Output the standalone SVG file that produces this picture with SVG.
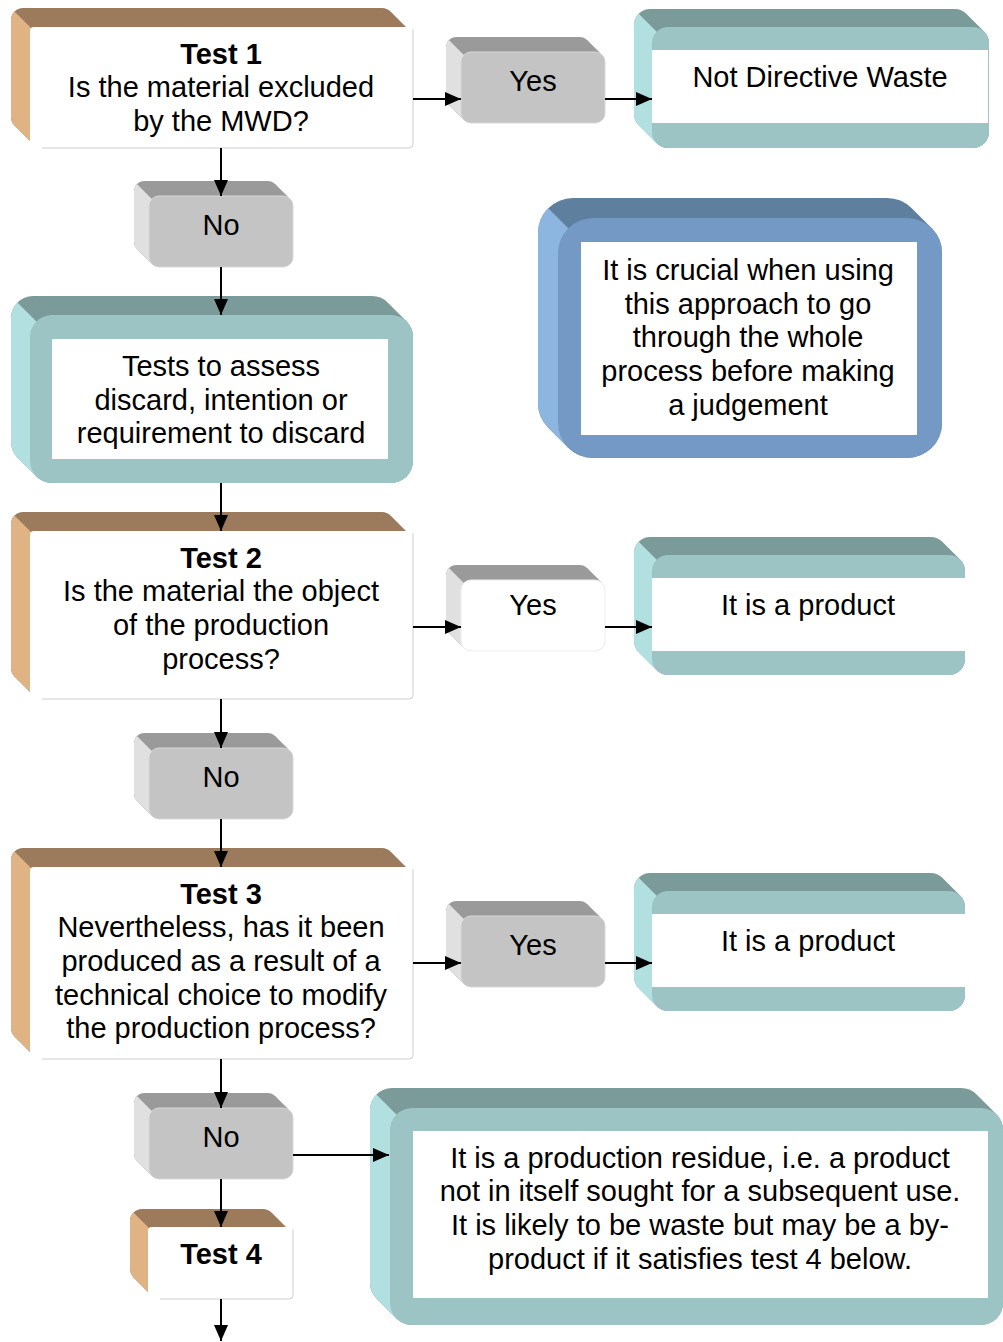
<svg xmlns="http://www.w3.org/2000/svg" width="1003" height="1342" viewBox="0 0 1003 1342">
<style>
text{font-family:"Liberation Sans",Arial,sans-serif;font-size:29px;fill:#000;text-anchor:middle}
.b{font-weight:bold}
.tt{fill:#9c7b5c}.tl{fill:#e0b384}.tf{fill:#fff}
.edge{stroke:#cfcfcf;stroke-width:1;fill:none}
.gt{fill:#9a9a9a}.gl{fill:#e0e0e0}.gf{fill:#c4c4c4;stroke:#d8d8d8;stroke-width:1}
.ct{fill:#7a9b99}.cl{fill:#b2e0e0}.cf{fill:#9dc4c4}
.bt{fill:#5e7f9e}.bl{fill:#8cb5e0}.bf{fill:#7399c4}
.w{fill:#fff}
.con line{stroke:#000;stroke-width:2;fill:none;marker-end:url(#ah)}
</style>
<defs>
<marker id="ah" markerUnits="userSpaceOnUse" markerWidth="16" markerHeight="14" viewBox="0 0 16 14" refX="16" refY="7" orient="auto"><path d="M0,0 L16,7 L0,14 z" fill="#000"/></marker>
<path id="gsil" d="M-15,-5 A10 10 0 0 1 -5,-15 L119,-15 A10 10 0 0 1 126.1,-12.1 L141.1,2.9 A10 10 0 0 1 144,10 L144,61 A10 10 0 0 1 134,71 L10,71 A10 10 0 0 1 2.9,68.1 L-12.1,53.1 A10 10 0 0 1 -15,46 Z"/>
<path id="gleft" d="M-12.1,-12.1 A10 10 0 0 0 -15,-5 L-15,46 A10 10 0 0 0 -12.1,53.1 L2.9,68.1 L2.9,2.9 Z"/>
<path id="psil" d="M-18,-2 A16 16 0 0 1 -2,-18 L279,-18 A16 16 0 0 1 290.3,-13.3 L308.3,4.7 A16 16 0 0 1 313,16 L313,104 A16 16 0 0 1 297,120 L16,120 A16 16 0 0 1 4.7,115.3 L-13.3,97.3 A16 16 0 0 1 -18,86 Z"/>
<path id="pleft" d="M-13.3,-13.3 A16 16 0 0 0 -18,-2 L-18,86 A16 16 0 0 0 -13.3,97.3 L4.7,115.3 L4.7,4.7 Z"/>
</defs>

<g id="test1" transform="translate(30,27)">
<path class="tt" d="M-19,-7 A12 12 0 0 1 -7,-19 L352,-19 A12 12 0 0 1 360.5,-15.5 L379.5,3.5 A12 12 0 0 1 383,12 L383,109 A12 12 0 0 1 371,121 L12,121 A12 12 0 0 1 3.5,117.5 L-15.5,98.5 A12 12 0 0 1 -19,90 Z"/>
<path class="tl" d="M-15.5,-15.5 A12 12 0 0 0 -19,-7 L-19,90 A12 12 0 0 0 -15.5,98.5 L3.5,117.5 L3.5,3.5 Z"/>
<rect class="tf" x="0" y="0" width="383" height="121" rx="4"/>
<path class="edge" d="M383,2 L383,117 Q383,121 379,121 L12,121"/>
<text class="b" x="191" y="37">Test 1</text>
<text x="191" y="70">Is the material excluded</text>
<text x="191" y="104">by the MWD?</text>
</g>

<g id="yes1" transform="translate(461,52)">
<use href="#gsil" class="gt"/><use href="#gleft" class="gl"/>
<rect class="gf" x="0" y="0" width="144" height="71" rx="10"/>
<text x="72" y="39">Yes</text>
</g>

<g id="notdirective" transform="translate(652,27)">
<path class="ct" d="M-18,-2 A16 16 0 0 1 -2,-18 L303,-18 A16 16 0 0 1 314.3,-13.3 L332.3,4.7 A16 16 0 0 1 337,16 L337,105 A16 16 0 0 1 321,121 L16,121 A16 16 0 0 1 4.7,116.3 L-13.3,98.3 A16 16 0 0 1 -18,87 Z"/>
<path class="cl" d="M-13.3,-13.3 A16 16 0 0 0 -18,-2 L-18,87 A16 16 0 0 0 -13.3,98.3 L4.7,116.3 L4.7,4.7 Z"/>
<rect class="cf" x="0" y="0" width="337" height="121" rx="16"/>
<rect class="w" x="0" y="23" width="336" height="73"/>
<text x="168" y="60">Not Directive Waste</text>
</g>

<g id="no1" transform="translate(149,196)">
<use href="#gsil" class="gt"/><use href="#gleft" class="gl"/>
<rect class="gf" x="0" y="0" width="144" height="71" rx="10"/>
<text x="72" y="39">No</text>
</g>

<g id="tests" transform="translate(30,315)">
<path class="ct" d="M-19,3 A22 22 0 0 1 3,-19 L342,-19 A22 22 0 0 1 357.6,-12.6 L376.6,6.4 A22 22 0 0 1 383,22 L383,146 A22 22 0 0 1 361,168 L22,168 A22 22 0 0 1 6.4,161.6 L-12.6,142.6 A22 22 0 0 1 -19,127 Z"/>
<path class="cl" d="M-12.6,-12.6 A22 22 0 0 0 -19,3 L-19,127 A22 22 0 0 0 -12.6,142.6 L6.4,161.6 L6.4,6.4 Z"/>
<rect class="cf" x="0" y="0" width="383" height="168" rx="22"/>
<rect class="w" x="22" y="24" width="336" height="120"/>
<text x="191" y="61">Tests to assess</text>
<text x="191" y="94.5">discard, intention or</text>
<text x="191" y="128">requirement to discard</text>
</g>

<g id="note" transform="translate(558,218)">
<path class="bt" d="M-20,15 A35 35 0 0 1 15,-20 L329,-20 A35 35 0 0 1 353.75,-9.75 L373.75,10.25 A35 35 0 0 1 384,35 L384,205 A35 35 0 0 1 349,240 L35,240 A35 35 0 0 1 10.25,229.75 L-9.75,209.75 A35 35 0 0 1 -20,185 Z"/>
<path class="bl" d="M-9.75,-9.75 A35 35 0 0 0 -20,15 L-20,185 A35 35 0 0 0 -9.75,209.75 L10.25,229.75 L10.25,10.25 Z"/>
<rect class="bf" x="0" y="0" width="384" height="240" rx="35"/>
<rect class="w" x="23" y="24" width="336" height="193"/>
<text x="190" y="62">It is crucial when using</text>
<text x="190" y="95.5">this approach to go</text>
<text x="190" y="129">through the whole</text>
<text x="190" y="163">process before making</text>
<text x="190" y="196.5">a judgement</text>
</g>

<g id="test2" transform="translate(30,531)">
<path class="tt" d="M-19,-7 A12 12 0 0 1 -7,-19 L352,-19 A12 12 0 0 1 360.5,-15.5 L379.5,3.5 A12 12 0 0 1 383,12 L383,156 A12 12 0 0 1 371,168 L12,168 A12 12 0 0 1 3.5,164.5 L-15.5,145.5 A12 12 0 0 1 -19,137 Z"/>
<path class="tl" d="M-15.5,-15.5 A12 12 0 0 0 -19,-7 L-19,137 A12 12 0 0 0 -15.5,145.5 L3.5,164.5 L3.5,3.5 Z"/>
<rect class="tf" x="0" y="0" width="383" height="168" rx="4"/>
<path class="edge" d="M383,2 L383,164 Q383,168 379,168 L12,168"/>
<text class="b" x="191" y="37">Test 2</text>
<text x="191" y="70">Is the material the object</text>
<text x="191" y="104">of the production</text>
<text x="191" y="138">process?</text>
</g>

<g id="yes2" transform="translate(461,580)">
<use href="#gsil" class="gt"/><use href="#gleft" class="gl"/>
<rect x="0" y="0" width="144" height="71" rx="10" fill="#fff" stroke="#eeeeee"/>
<text x="72" y="35">Yes</text>
</g>

<g id="product1" transform="translate(652,555)">
<use href="#psil" class="ct"/><use href="#pleft" class="cl"/>
<rect class="cf" x="0" y="0" width="313" height="120" rx="16"/>
<rect class="w" x="0" y="23" width="313" height="73"/>
<text x="156" y="60">It is a product</text>
</g>

<g id="no2" transform="translate(149,748)">
<use href="#gsil" class="gt"/><use href="#gleft" class="gl"/>
<rect class="gf" x="0" y="0" width="144" height="71" rx="10"/>
<text x="72" y="39">No</text>
</g>

<g id="test3" transform="translate(30,867)">
<path class="tt" d="M-19,-7 A12 12 0 0 1 -7,-19 L352,-19 A12 12 0 0 1 360.5,-15.5 L379.5,3.5 A12 12 0 0 1 383,12 L383,180 A12 12 0 0 1 371,192 L12,192 A12 12 0 0 1 3.5,188.5 L-15.5,169.5 A12 12 0 0 1 -19,161 Z"/>
<path class="tl" d="M-15.5,-15.5 A12 12 0 0 0 -19,-7 L-19,161 A12 12 0 0 0 -15.5,169.5 L3.5,188.5 L3.5,3.5 Z"/>
<rect class="tf" x="0" y="0" width="383" height="192" rx="4"/>
<path class="edge" d="M383,2 L383,188 Q383,192 379,192 L12,192"/>
<text class="b" x="191" y="37">Test 3</text>
<text x="191" y="70">Nevertheless, has it been</text>
<text x="191" y="104">produced as a result of a</text>
<text x="191" y="138">technical choice to modify</text>
<text x="191" y="171">the production process?</text>
</g>

<g id="yes3" transform="translate(461,916)">
<use href="#gsil" class="gt"/><use href="#gleft" class="gl"/>
<rect class="gf" x="0" y="0" width="144" height="71" rx="10"/>
<text x="72" y="39">Yes</text>
</g>

<g id="product2" transform="translate(652,891)">
<use href="#psil" class="ct"/><use href="#pleft" class="cl"/>
<rect class="cf" x="0" y="0" width="313" height="120" rx="16"/>
<rect class="w" x="0" y="23" width="313" height="73"/>
<text x="156" y="60">It is a product</text>
</g>

<g id="no3" transform="translate(149,1108)">
<use href="#gsil" class="gt"/><use href="#gleft" class="gl"/>
<rect class="gf" x="0" y="0" width="144" height="71" rx="10"/>
<text x="72" y="39">No</text>
</g>

<g id="test4" transform="translate(148,1227)">
<path class="tt" d="M-18,-6 A12 12 0 0 1 -6,-18 L115,-18 A12 12 0 0 1 123.5,-14.5 L141.5,3.5 A12 12 0 0 1 145,12 L145,60 A12 12 0 0 1 133,72 L12,72 A12 12 0 0 1 3.5,68.5 L-14.5,50.5 A12 12 0 0 1 -18,42 Z"/>
<path class="tl" d="M-14.5,-14.5 A12 12 0 0 0 -18,-6 L-18,42 A12 12 0 0 0 -14.5,50.5 L3.5,68.5 L3.5,3.5 Z"/>
<rect class="tf" x="0" y="0" width="145" height="72" rx="4"/>
<path class="edge" d="M145,2 L145,68 Q145,72 141,72 L12,72"/>
<text class="b" x="73" y="37">Test 4</text>
</g>

<g id="residue" transform="translate(390,1108)">
<path class="ct" d="M-20,2 A22 22 0 0 1 2,-20 L571,-20 A22 22 0 0 1 586.6,-13.6 L606.6,6.4 A22 22 0 0 1 613,22 L613,195 A22 22 0 0 1 591,217 L22,217 A22 22 0 0 1 6.4,210.6 L-13.6,190.6 A22 22 0 0 1 -20,175 Z"/>
<path class="cl" d="M-13.6,-13.6 A22 22 0 0 0 -20,2 L-20,175 A22 22 0 0 0 -13.6,190.6 L6.4,210.6 L6.4,6.4 Z"/>
<rect class="cf" x="0" y="0" width="613" height="217" rx="22"/>
<rect class="w" x="23" y="23" width="575" height="167"/>
<text x="310" y="60">It is a production residue, i.e. a product</text>
<text x="310" y="93">not in itself sought for a subsequent use.</text>
<text x="310" y="127">It is likely to be waste but may be a by-</text>
<text x="310" y="161">product if it satisfies test 4 below.</text>
</g>

<g id="connectors" class="con">
<line x1="221" y1="148" x2="221" y2="196"/>
<line x1="221" y1="267" x2="221" y2="315"/>
<line x1="221" y1="483" x2="221" y2="531"/>
<line x1="221" y1="699" x2="221" y2="748"/>
<line x1="221" y1="819" x2="221" y2="867"/>
<line x1="221" y1="1059" x2="221" y2="1108"/>
<line x1="221" y1="1179" x2="221" y2="1227"/>
<line x1="221" y1="1299" x2="221" y2="1341"/>
<line x1="413" y1="99" x2="461" y2="99"/>
<line x1="605" y1="99" x2="652" y2="99"/>
<line x1="413" y1="627" x2="461" y2="627"/>
<line x1="605" y1="627" x2="652" y2="627"/>
<line x1="413" y1="963" x2="461" y2="963"/>
<line x1="605" y1="963" x2="652" y2="963"/>
<line x1="293" y1="1155" x2="389" y2="1155"/>
</g>
</svg>
